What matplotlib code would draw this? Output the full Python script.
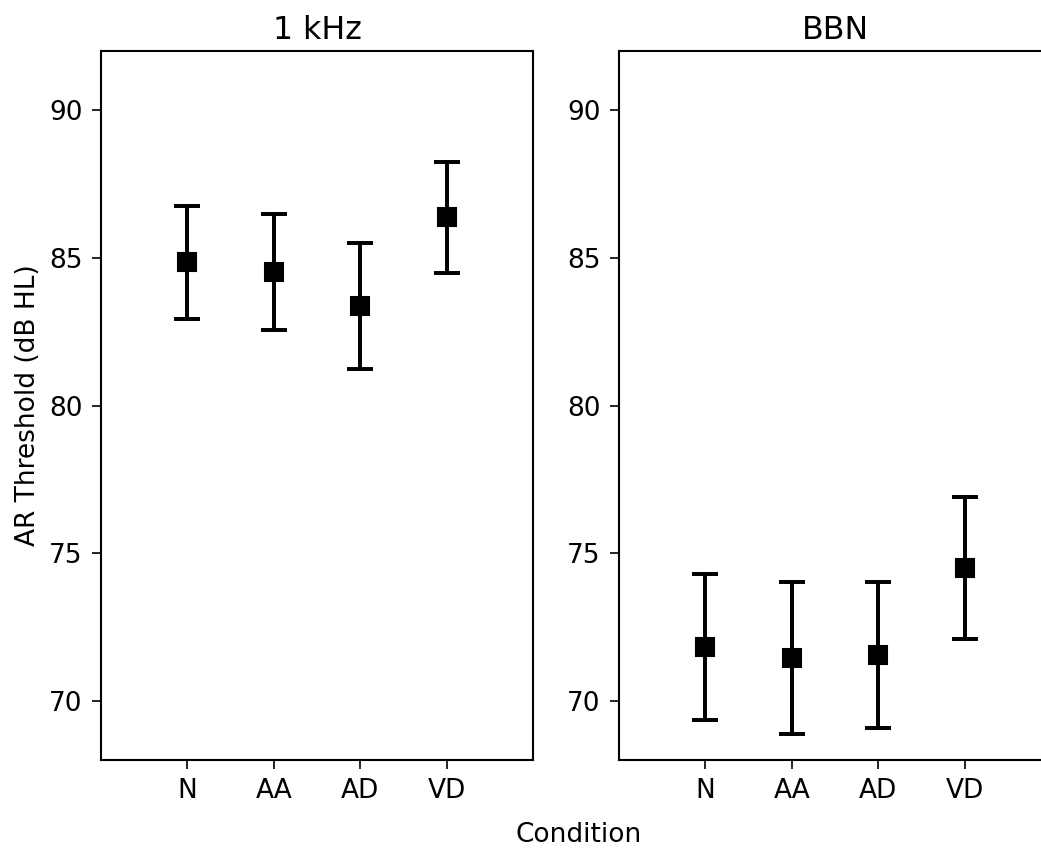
import matplotlib
matplotlib.use("Agg")
import matplotlib.pyplot as plt
import numpy as np

plt.rcParams["font.size"] = 12.7
plt.rcParams["xtick.major.size"] = 4.2
plt.rcParams["ytick.major.size"] = 4.2
plt.rcParams["xtick.major.pad"] = 4.5
plt.rcParams["ytick.major.pad"] = 4.5

conditions = ["N", "AA", "AD", "VD"]

# 1 kHz stimulus
khz_mean = [84.85, 84.52, 83.37, 86.37]
khz_err = [1.92, 1.97, 2.12, 1.87]

# broadband noise
bbn_mean = [71.82, 71.44, 71.56, 74.50]
bbn_err = [2.46, 2.57, 2.48, 2.40]

x = np.arange(len(conditions))

fig = plt.figure(figsize=(1041 / 150, 848 / 150), dpi=150)
ax1 = fig.add_axes([0.097, 0.1038, 0.415, 0.836])
ax2 = fig.add_axes([0.5946, 0.1038, 0.415, 0.836])

for ax, mean, err, title in [(ax1, khz_mean, khz_err, "1 kHz"),
                             (ax2, bbn_mean, bbn_err, "BBN")]:
    ax.errorbar(x, mean, yerr=err, fmt="s", color="black", markersize=8.5,
                elinewidth=1.9, capsize=6.3, capthick=1.9)
    ax.set_xlim(-1, 4)
    ax.set_ylim(68, 92)
    ax.set_xticks(x)
    ax.set_xticklabels(conditions)
    ax.set_yticks([70, 75, 80, 85, 90])
    ax.set_title(title, fontsize=15.2)
    for s in ax.spines.values():
        s.set_linewidth(1.0)

ax1.set_ylabel("AR Threshold (dB HL)")
fig.text(0.556, 0.0153, "Condition", ha="center", va="center")

fig.savefig("out.png", dpi=150)
